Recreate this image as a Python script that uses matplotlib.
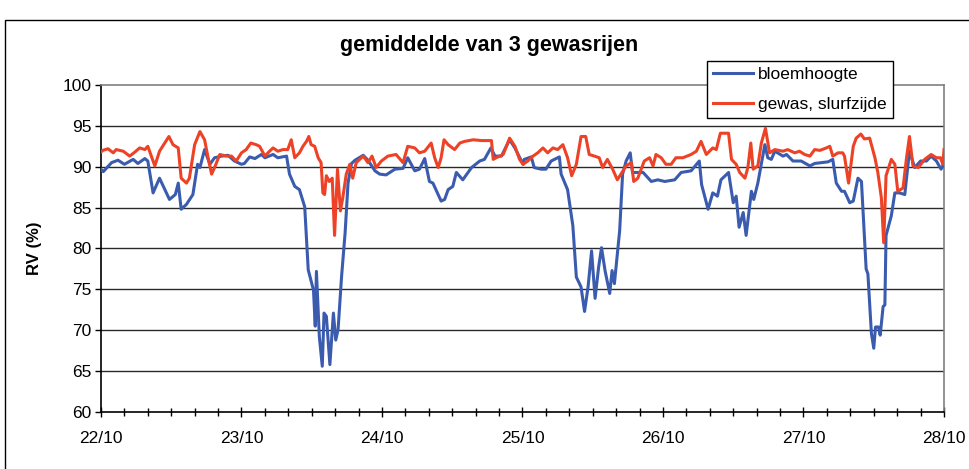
import matplotlib
matplotlib.use("Agg")
import matplotlib.pyplot as plt
from matplotlib.patches import Rectangle
from matplotlib.ticker import MultipleLocator

plt.rcParams['font.family'] = ['Liberation Sans', 'DejaVu Sans']

# uren vanaf 22/10 0:00 en RV (%)
bloem_uur = [0.0, 0.4, 1.8, 2.9, 4.0, 5.5, 6.3, 7.5, 8.0, 8.9, 10.0, 11.7, 12.7, 13.2, 13.7,
             14.6, 15.7, 16.5, 16.9, 17.7, 18.6, 19.4, 20.6, 21.7, 22.8, 24.0, 24.5, 25.4,
             26.3, 27.4, 28.0, 29.4, 30.2, 31.7, 32.2, 33.1, 33.9, 34.8, 35.4, 36.3, 36.6,
             36.8, 37.3, 37.8, 38.1, 38.5, 39.1, 39.7, 40.1, 40.5, 41.1, 41.7, 42.2, 42.8,
             43.4, 44.8, 45.6, 46.8, 47.6, 48.7, 50.2, 51.6, 52.4, 53.6, 54.4, 55.3, 56.1,
             56.7, 58.1, 58.7, 59.3, 60.1, 60.7, 61.8, 63.3, 64.7, 65.5, 66.6, 67.3, 68.4,
             69.8, 70.7, 72.1, 72.3, 73.5, 74.0, 75.2, 76.0, 76.9, 78.3, 78.6, 79.7, 80.6,
             81.2, 82.0, 82.6, 83.2, 83.8, 84.4, 85.0, 85.5, 86.1, 86.9, 87.3, 87.7, 88.6,
             89.1, 89.7, 90.4, 90.8, 92.6, 93.1, 94.0, 95.1, 96.3, 98.0, 99.1, 100.8, 102.2,
             102.6, 103.7, 104.5, 105.3, 105.9, 107.2, 108.0, 108.5, 109.0, 109.7, 110.2,
             111.1, 111.5, 112.2, 113.4, 113.9, 114.5, 115.1, 116.5, 117.1, 118.2, 119.6,
             121.1, 121.9, 123.0, 124.2, 125.0, 125.6, 126.5, 127.0, 127.9, 128.5, 129.3,
             129.9, 130.7, 131.0, 131.6, 132.0, 132.3, 132.8, 133.1, 133.6, 133.9, 134.1,
             135.0, 135.6, 136.4, 137.3, 138.1, 139.0, 140.0, 141.0, 141.8, 142.7, 143.5,
             144.0]
bloem_rv = [89.7, 89.4, 90.5, 90.8, 90.3, 90.9, 90.4, 91.0, 90.7, 86.8, 88.6, 86.0, 86.6, 88.0, 84.8,
            85.4, 86.6, 90.3, 89.9, 92.1, 90.3, 91.1, 91.3, 91.4, 90.7, 90.3, 90.4, 91.2,
            91.0, 91.5, 91.1, 91.5, 91.1, 91.3, 89.1, 87.6, 87.2, 85.1, 77.4, 74.9, 70.5,
            77.2, 69.2, 65.6, 72.1, 71.7, 65.8, 72.1, 68.8, 70.1, 76.6, 81.9, 88.0, 90.4,
            90.8, 91.4, 90.8, 89.5, 89.1, 89.0, 89.7, 89.8, 91.1, 89.5, 89.7, 91.0, 88.2,
            88.0, 85.8, 86.0, 87.2, 87.6, 89.3, 88.4, 89.9, 90.7, 90.9, 92.3, 91.3, 91.3,
            93.3, 92.3, 90.3, 90.9, 91.2, 89.9, 89.7, 89.7, 90.7, 91.2, 89.1, 87.2, 82.8,
            76.5, 75.3, 72.3, 75.3, 79.7, 73.9, 77.7, 80.1, 77.3, 74.5, 77.3, 75.7, 82.2,
            89.1, 90.7, 91.7, 89.3, 89.3, 88.9, 88.2, 88.4, 88.2, 88.4, 89.3, 89.5, 90.7,
            87.8, 84.8, 86.8, 86.4, 88.4, 89.3, 85.6, 86.4, 82.6, 84.4, 81.6,
            87.0, 86.0, 88.0, 92.7, 91.1, 90.9, 91.9, 91.3, 91.5, 90.7, 90.7,
            90.1, 90.4, 90.5, 90.6, 90.9, 88.0, 87.0, 87.0, 85.6, 85.8, 88.6,
            88.2, 77.5, 76.9, 69.6, 67.8, 70.4, 70.4, 69.4, 72.9, 73.1, 81.6,
            84.0, 86.8, 86.8, 86.6, 91.9, 89.9, 90.7, 90.7, 91.3, 90.7, 89.7,
            90.4]

gewas_uur = [0.0, 0.3, 1.2, 2.1, 2.6, 3.8, 4.9, 5.8, 6.6, 7.5, 8.0, 9.2, 10.0, 11.6, 12.3, 13.2,
             13.7, 14.6, 15.1, 16.0, 16.9, 17.7, 18.3, 18.9, 19.4, 20.3, 21.4, 22.3, 23.1,
             24.0, 24.8, 25.6, 26.5, 27.1, 28.0, 28.8, 29.4, 30.2, 31.1, 31.9, 32.5, 33.1,
             33.9, 34.5, 35.1, 35.5, 35.9, 36.5, 37.1, 37.6, 37.9, 38.2, 38.5, 39.0, 39.5,
             39.9, 40.4, 40.9, 41.3, 41.9, 42.5, 43.0, 43.6, 44.8, 45.6, 46.3, 47.0, 47.9,
             49.0, 50.4, 51.6, 52.4, 53.6, 54.4, 55.3, 56.4, 57.0, 57.6, 58.1, 58.6, 59.3,
             60.4, 61.3, 62.1, 63.6, 65.0, 66.7, 67.0, 67.5, 68.7, 69.8, 70.7, 71.5, 72.1,
             72.9, 73.8, 74.6, 75.5, 76.3, 77.2, 78.0, 78.9, 79.7, 80.4, 81.2, 82.0, 82.8,
             83.4, 84.3, 85.1, 85.7, 86.5, 87.4, 88.2, 89.0, 89.7, 90.6, 91.0, 91.7, 92.8,
             93.7, 94.3, 94.8, 95.7, 96.5, 97.4, 98.2, 99.4, 100.8, 101.7, 102.5, 103.4,
             104.5, 105.1, 105.8, 107.2, 107.7, 108.5, 109.1, 110.0, 110.5, 111.0, 111.4,
             112.2, 112.8, 113.5, 114.2, 115.1, 116.5, 117.3, 118.5, 119.3, 120.2, 121.1,
             121.9, 122.8, 123.9, 124.5, 125.0, 125.9, 126.7, 127.0, 127.7, 128.5, 129.0,
             129.8, 130.4, 131.3, 132.2, 132.7, 133.3, 133.7, 134.1, 135.0, 135.6, 136.1,
             137.0, 137.6, 138.1, 138.7, 139.6, 140.7, 141.8, 142.7, 143.4, 143.8, 144.0]
gewas_rv = [91.8, 92.0, 92.2, 91.7, 92.1, 91.9, 91.3, 91.8, 92.3, 92.1, 92.5, 90.1, 91.9, 93.7, 92.7, 92.3,
            88.6, 88.0, 88.6, 92.7, 94.3, 93.3, 91.1, 89.1, 89.9, 91.5, 91.3, 91.3, 90.7,
            91.7, 92.1, 92.9, 92.7, 92.5, 91.3, 91.9, 92.3, 91.9, 92.1, 92.1, 93.3, 91.1,
            91.7, 92.5, 93.1, 93.7, 92.7, 92.5, 91.1, 90.5, 86.8, 86.6, 88.9, 88.2, 88.6,
            81.6, 89.7, 84.6, 86.2, 89.1, 90.3, 88.6, 90.5, 91.3, 90.5, 91.3, 89.9, 90.7,
            91.3, 91.5, 90.5, 92.5, 92.3, 91.7, 91.9, 92.9, 91.1, 89.9, 91.1, 93.3, 92.7,
            92.1, 92.9, 93.1, 93.3, 93.2, 93.2, 90.9, 91.1, 91.5, 93.5, 92.5, 90.9, 90.3,
            90.7, 91.3, 91.7, 92.3, 91.7, 92.3, 92.1, 92.7, 91.1, 88.9, 90.3, 93.7, 93.7,
            91.5, 91.3, 91.1, 89.9, 90.9, 89.7, 88.4, 89.3, 90.1, 90.5, 88.2, 88.6, 90.7,
            91.1, 90.1, 91.5, 91.1, 90.3, 90.3, 91.1, 91.1, 91.5, 91.9, 93.1, 91.5,
            92.3, 92.1, 94.1, 94.1, 90.9, 90.3, 89.3, 88.6, 89.9, 92.9, 89.7,
            90.1, 92.9, 94.7, 91.7, 92.1, 91.9, 92.1, 91.7, 91.9, 91.5, 91.3,
            92.1, 92.0, 92.3, 92.5, 91.3, 91.7, 91.7, 91.3, 88.0, 92.5, 93.5,
            94.0, 93.4, 93.5, 91.1, 89.3, 86.2, 80.7, 88.9, 90.9, 90.3, 87.0,
            87.4, 91.1, 93.7, 90.1, 89.9, 90.9, 91.5, 91.1, 91.1, 90.3, 92.1]

dag_labels = ['22/10', '23/10', '24/10', '25/10', '26/10', '27/10', '28/10']
y_ticks = [60, 65, 70, 75, 80, 85, 90, 95, 100]

fig = plt.figure(figsize=(9.7, 4.69), dpi=100)
ax = fig.add_axes([0.1041, 0.1215, 0.8691, 0.6973])

# horizontale rasterlijnen
for y in y_ticks[1:-1]:
    ax.axhline(y, color='#2a2a2a', lw=1.0, zorder=1)

ax.plot(bloem_uur, bloem_rv, color='#3A5BAE', lw=2.2, label='bloemhoogte', zorder=3)
ax.plot(gewas_uur, gewas_rv, color='#EE4226', lw=2.2, label='gewas, slurfzijde', zorder=4)

ax.set_xlim(0, 144)
ax.set_ylim(60, 100)
ax.set_yticks(y_ticks)
ax.set_xticks(range(0, 145, 24))
ax.set_xticklabels(dag_labels)
ax.xaxis.set_minor_locator(MultipleLocator(4))

ax.tick_params(axis='x', which='major', direction='inout', length=7, width=1, pad=10, labelsize=12.5)
ax.tick_params(axis='x', which='minor', direction='inout', length=6, width=1)
ax.tick_params(axis='y', direction='out', length=4, width=1, pad=3, labelsize=12.5)

ax.spines['left'].set_color('black')
ax.spines['bottom'].set_color('black')
ax.spines['top'].set_color('#808080')
ax.spines['right'].set_color('#808080')
for s in ax.spines.values():
    s.set_linewidth(1.2)

ax.set_ylabel('RV (%)', fontsize=12, fontweight='bold')
ax.yaxis.set_label_coords(-0.07, 0.5)

fig.text(0.504, 0.904, 'gemiddelde van 3 gewasrijen', ha='center', va='center',
         fontsize=15.5, fontweight='bold')

leg = ax.legend(loc='upper left', bbox_to_anchor=(0.729, 0.870),
                bbox_transform=fig.transFigure, borderaxespad=0, fancybox=False,
                edgecolor='black', framealpha=1, fontsize=12.5, handlelength=2.3,
                handletextpad=0.3, labelspacing=0.85, borderpad=0.35)
leg.get_frame().set_linewidth(1.0)
leg.set_zorder(10)

# buitenkader van de grafiek
fig.patches.append(Rectangle((0.005, -0.5), 2, 1.457, transform=fig.transFigure,
                             fill=False, ec='black', lw=1.0))

fig.savefig('out.png', dpi=100)
